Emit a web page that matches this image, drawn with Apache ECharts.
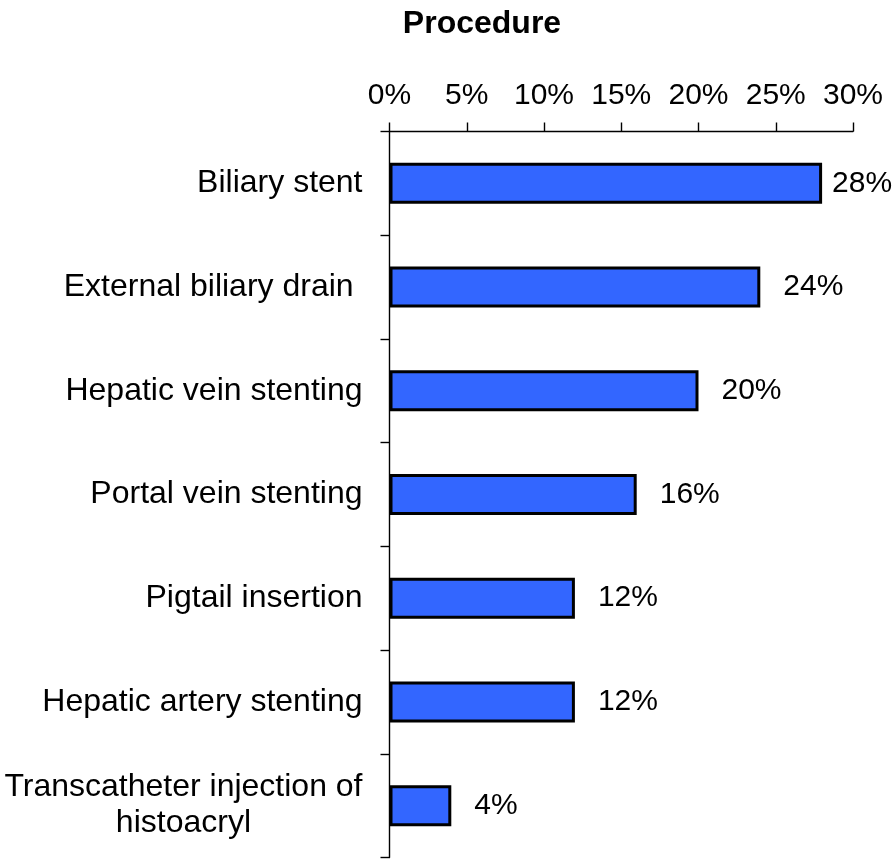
<!DOCTYPE html>
<html>
<head>
<meta charset="utf-8">
<script src="https://cdn.jsdelivr.net/npm/echarts@6/dist/echarts.min.js"></script>
<style>
html,body{margin:0;padding:0;background:#fff;}
#chart{width:896px;height:860px;}
</style>
</head>
<body>
<div id="chart"></div>
<script>
const titleText = 'Procedure';
const categories = [
  'Biliary stent',
  'External biliary drain ',
  'Hepatic vein stenting',
  'Portal vein stenting',
  'Pigtail insertion',
  'Hepatic artery stenting',
  'Transcatheter injection of\nhistoacryl'
];
const values = [28, 24, 20, 16, 12, 12, 4];
const xTicks = [0, 5, 10, 15, 20, 25, 30];

const FONT = '"Liberation Sans", Arial, sans-serif';
const chart = echarts.init(document.getElementById('chart'), null, {renderer: 'canvas'});

const option = {
  animation: false,
  backgroundColor: '#ffffff',
  title: {
    text: titleText,
    left: 482,
    top: 8,
    padding: 0,
    textAlign: 'center',
    textStyle: {fontFamily: FONT, fontSize: 32, fontWeight: 'bold', color: '#000'}
  },
  grid: {left: 389.5, right: 43, top: 131.5, bottom: 2.5, containLabel: false},
  xAxis: {
    type: 'value',
    position: 'top',
    min: xTicks[0],
    max: xTicks[xTicks.length - 1],
    interval: xTicks[1] - xTicks[0],
    splitLine: {show: false},
    axisLine: {show: true, lineStyle: {color: '#000', width: 1.4}},
    axisTick: {show: true, length: 9, lineStyle: {color: '#000', width: 1.4}},
    axisLabel: {
      margin: 21,
      fontFamily: FONT, fontSize: 30, color: '#000',
      formatter: v => v + '%'
    }
  },
  yAxis: {
    type: 'category',
    inverse: true,
    data: categories,
    axisLine: {show: true, lineStyle: {color: '#000', width: 1.4}},
    axisTick: {show: true, length: 9, alignWithLabel: false, lineStyle: {color: '#000', width: 1.4}},
    axisLabel: {
      margin: 27,
      fontFamily: FONT, fontSize: 32, color: '#000',
      formatter: v => v.split('\n').map(s => '{c|' + s + '}').join('\n'),
      rich: {c: {fontFamily: FONT, fontSize: 32, color: '#000', align: 'center', lineHeight: 36}}
    }
  },
  series: [{
    type: 'bar',
    barWidth: 41,
    data: values.map(v => ({
      value: v,
      label: {distance: v >= 28 ? 10 : 23}
    })),
    itemStyle: {color: '#3366FF', borderColor: '#000', borderWidth: 3},
    label: {
      show: true,
      position: 'right',
      fontFamily: FONT, fontSize: 30, color: '#000',
      formatter: p => p.value + '%'
    }
  }]
};
chart.setOption(option);
</script>
</body>
</html>
